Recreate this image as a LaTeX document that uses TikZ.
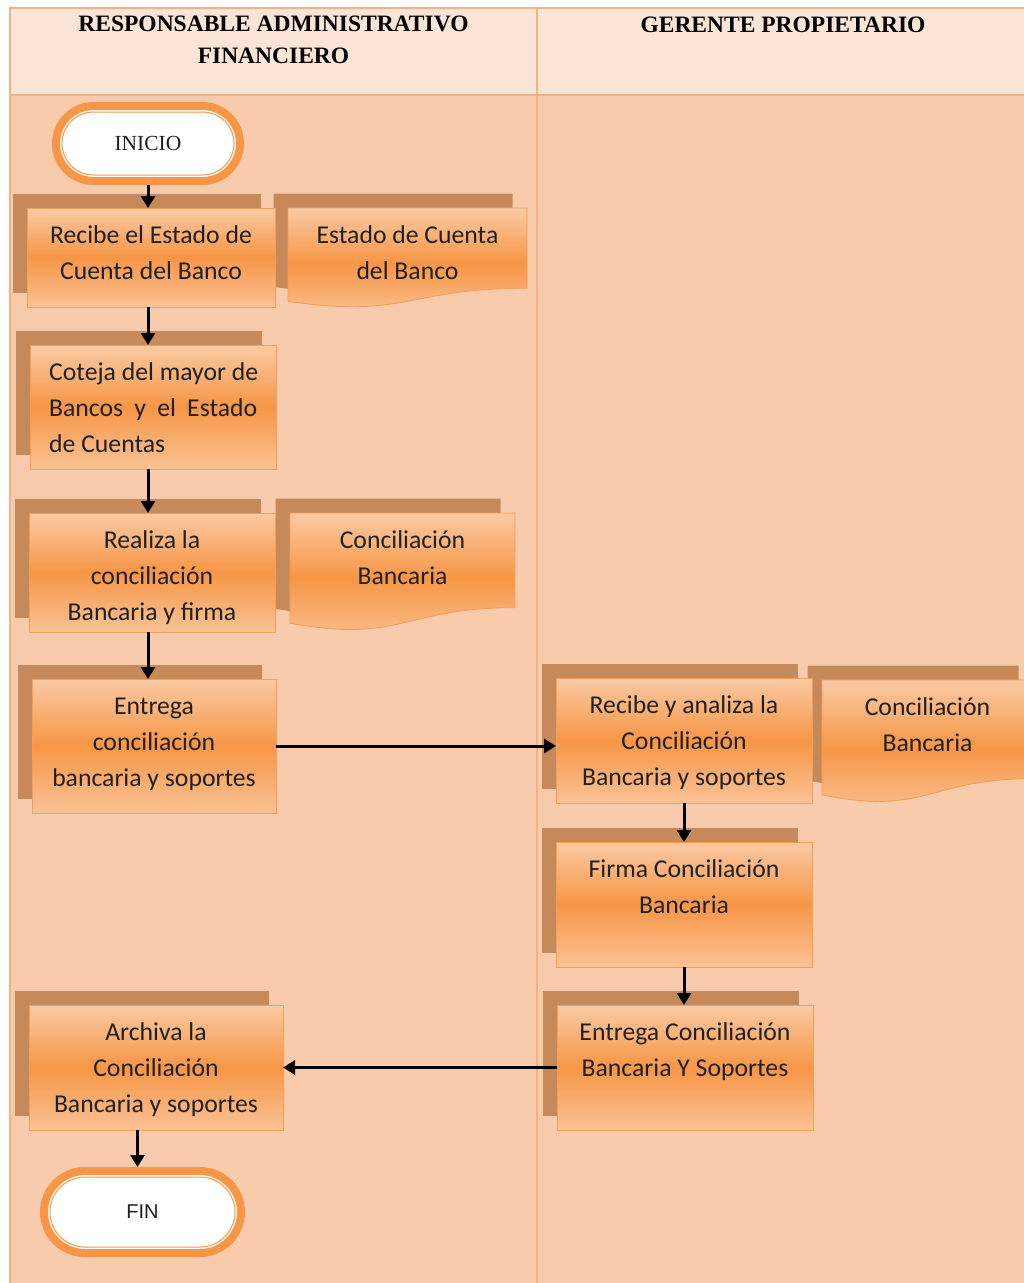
\documentclass[tikz,border=0pt]{standalone}
\usepackage{fontspec}
\setmainfont{Carlito}
\newfontfamily\hdrfont{Liberation Serif}
\newfontfamily\finfont{Liberation Sans}
\usetikzlibrary{arrows.meta,calc,shapes.misc,shadows}

\definecolor{hdrfill}{RGB}{252,228,214}
\definecolor{lanefill}{RGB}{248,203,172}
\definecolor{laneline}{RGB}{244,177,131}
\definecolor{gtop}{RGB}{250,202,164}
\definecolor{gmid}{RGB}{247,150,70}
\definecolor{gbot}{RGB}{250,194,150}
\definecolor{boxline}{RGB}{247,158,86}
\definecolor{boxshadow}{RGB}{198,138,90}
\definecolor{termring}{RGB}{247,150,70}
\definecolor{ink}{RGB}{32,32,32}

% document symbol (wavy bottom) drawn on the frame of a named node
\newcommand\drawdoc[1]{%
  \path[docstyle] (#1.north west) -- (#1.north east)
    -- ($(#1.north east)!0.802!(#1.south east)$)
    .. controls ($(#1.north)!0.802!(#1.south)$) and ($(#1.north)!1.107!(#1.south)$)
    .. ($(#1.north west)!0.934!(#1.south west)$) -- cycle;}

\tikzset{
  cast/.style={general shadow={fill=boxshadow, shadow xshift=-14.5pt, shadow yshift=14.5pt}},
  fillgrad/.style={top color=gtop, bottom color=gbot, middle color=gmid},
  procbox/.style 2 args={rectangle, draw=boxline, line width=0.8pt, fillgrad, cast,
    minimum width=#1, minimum height=#2, inner sep=0pt, outer sep=0pt},
  docframe/.style 2 args={rectangle, minimum width=#1, minimum height=#2, inner sep=0pt, outer sep=0pt},
  docstyle/.style={draw=boxline, line width=0.8pt, fillgrad, cast},
  btext/.style={font=\fontsize{25.7pt}{36pt}\selectfont, text=ink, align=center, anchor=north, inner sep=0pt},
  hdrtext/.style={font=\hdrfont\bfseries\fontsize{23.5pt}{32pt}\selectfont, text=black, align=center, anchor=north, inner sep=0pt},
  terminal/.style 2 args={rounded rectangle, draw=termring, line width=8pt, fill=white,
    minimum width=#1, minimum height=#2, inner sep=0pt, outer sep=4pt},
  ring/.style 2 args={rounded rectangle, draw=termring, line width=1pt,
    minimum width=#1, minimum height=#2, inner sep=0pt},
  flow/.style={draw=black, line width=3pt, -{Triangle[length=12pt,width=14pt]}},
}

\begin{document}
\begin{tikzpicture}[x=1pt,y=-1pt]
\useasboundingbox (0,0) rectangle (1024,1283);
\clip (0,0) rectangle (1024,1283);

% swimlanes
\fill[white] (0,0) rectangle (1024,1283);
\fill[hdrfill] (10,8) rectangle (1040,95);
\fill[lanefill] (10,95) rectangle (1040,1300);
\draw[laneline, line width=1.8pt] (10,8) rectangle (1040,1300);
\draw[laneline, line width=2.4pt] (10,95) -- (1040,95);
\draw[laneline, line width=1.8pt] (537,8) -- (537,1300);

\node[hdrtext] (lane1) at (273.5,8.6) {\strut RESPONSABLE ADMINISTRATIVO\\FINANCIERO};
\node[hdrtext] (lane2) at (783,9.6) {\strut GERENTE PROPIETARIO};

% documents
\node[docframe={239pt}{100pt}] (d1) at (407.5,258) {};
\drawdoc{d1}
\node[docframe={225pt}{118pt}] (d2) at (402.5,572) {};
\drawdoc{d2}
\node[docframe={211pt}{123pt}] (d3) at (927.5,741.5) {};
\drawdoc{d3}

% process steps
\node[procbox={248pt}{99pt}]  (p1) at (151,257.5) {};
\node[procbox={246pt}{124pt}] (p2) at (153,407) {};
\node[procbox={246pt}{119pt}] (p3) at (152,572.5) {};
\node[procbox={244pt}{134pt}] (p4) at (154,746) {};
\node[procbox={254pt}{125pt}] (p5) at (156,1067.5) {};
\node[procbox={256pt}{125pt}] (q1) at (684,740.5) {};
\node[procbox={256pt}{125pt}] (q2) at (684,904.5) {};
\node[procbox={256pt}{125pt}] (q3) at (685,1067.5) {};

% texts
\node[btext] (p1t) at ($(p1.north)+(0,10)$) {\strut Recibe el Estado de\\Cuenta del Banco};
\node[btext, align=left, anchor=north west] (p2t) at ($(p2.north west)+(19,10)$)
  {\strut Coteja del mayor de\\\makebox[208pt][s]{Bancos y el Estado}\\de Cuentas};
\node[btext] (p3t) at ($(p3.north)+(0,10)$) {\strut Realiza la\\conciliación\\Bancaria y firma};
\node[btext] (p4t) at ($(p4.north)+(0,10)$) {\strut Entrega\\conciliación\\bancaria y soportes};
\node[btext] (p5t) at ($(p5.north)+(0,10)$) {\strut Archiva la\\Conciliación\\Bancaria y soportes};
\node[btext] (q1t) at ($(q1.north)+(0,10)$) {\strut Recibe y analiza la\\Conciliación\\Bancaria y soportes};
\node[btext] (q2t) at ($(q2.north)+(0,10)$) {\strut Firma Conciliación\\Bancaria};
\node[btext] (q3t) at ($(q3.north)+(0,10)$) {\strut Entrega Conciliación\\Bancaria Y Soportes};
\node[btext] (d1t) at ($(d1.north)+(0,10)$) {\strut Estado de Cuenta\\del Banco};
\node[btext] (d2t) at ($(d2.north)+(0,10)$) {\strut Conciliación\\Bancaria};
\node[btext] (d3t) at ($(d3.north)+(0,10)$) {\strut Conciliación\\Bancaria};

% start / end
\node[terminal={184pt}{75pt}, font=\hdrfont\fontsize{21.5pt}{25pt}\selectfont, text=ink] (inicio) at (148,143.5) {INICIO};
\node[ring={172pt}{63pt}] (inicioring) at (inicio.center) {};
\node[terminal={197pt}{82pt}, font=\finfont\fontsize{20pt}{24pt}\selectfont, text=ink] (fin) at (142.5,1212) {FIN};
\node[ring={185pt}{70pt}] (finring) at (fin.center) {};

% flow
\draw[flow] (inicio.south) -- (inicio.south |- p1.north);
\draw[flow] (p1.south -| inicio.south) -- (p2.north -| inicio.south);
\draw[flow] (p2.south -| inicio.south) -- (p3.north -| inicio.south);
\draw[flow] (p3.south -| inicio.south) -- (p4.north -| inicio.south);
\draw[flow] (p4.east) -- (p4.east -| q1.west);
\draw[flow] (q1.south) -- (q1.south |- q2.north);
\draw[flow] (q2.south) -- (q2.south |- q3.north);
\draw[flow] (q3.west) -- (q3.west -| p5.east);
\draw[flow] ([xshift=-5pt]fin.north |- p5.south) -- ([xshift=-5pt]fin.north);
\end{tikzpicture}
\end{document}
